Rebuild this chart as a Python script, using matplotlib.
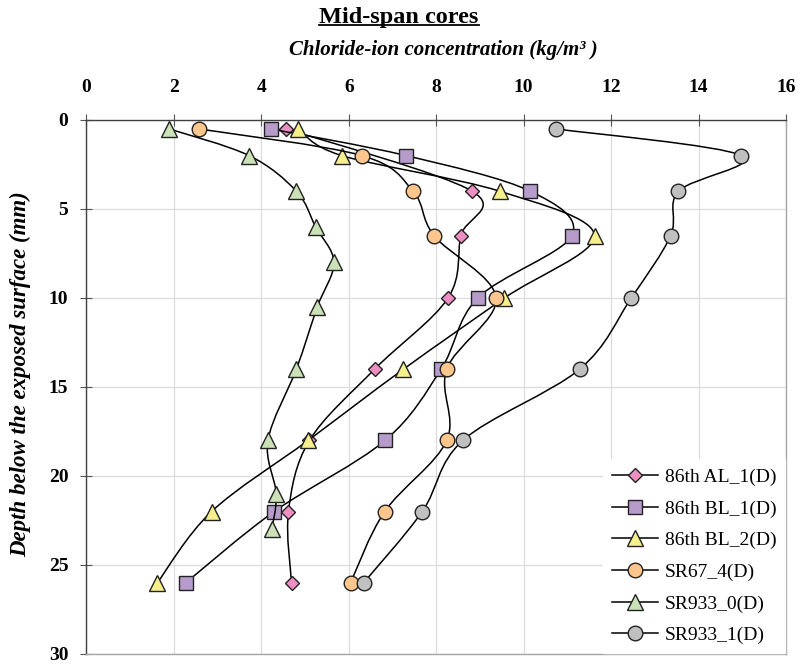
import numpy as np
from matplotlib import pyplot as plt
from matplotlib.path import Path
from matplotlib.patches import PathPatch
from matplotlib.lines import Line2D

plt.rcParams['font.family'] = ['Liberation Serif', 'DejaVu Serif']

# depths (mm) and chloride-ion concentrations (kg/m3)
names = ['86th AL_1(D)', '86th BL_1(D)', '86th BL_2(D)', 'SR67_4(D)', 'SR933_0(D)', 'SR933_1(D)']

al1_depth = [0.5, 4, 6.5, 10, 14, 18, 22, 26]
al1_conc = [4.57, 8.82, 8.56, 8.27, 6.59, 5.10, 4.62, 4.69]

bl1_depth = [0.5, 2, 4, 6.5, 10, 14, 18, 22, 26]
bl1_conc = [4.21, 7.31, 10.15, 11.10, 8.95, 8.11, 6.83, 4.29, 2.27]

bl2_depth = [0.5, 2, 4, 6.5, 10, 14, 18, 22, 26]
bl2_conc = [4.84, 5.84, 9.45, 11.62, 9.56, 7.25, 5.07, 2.86, 1.62]

sr67_depth = [0.5, 2, 4, 6.5, 10, 14, 18, 22, 26]
sr67_conc = [2.57, 6.30, 7.47, 7.95, 9.37, 8.24, 8.24, 6.82, 6.04]

sr9330_depth = [0.5, 2, 4, 6, 8, 10.5, 14, 18, 21, 23]
sr9330_conc = [1.89, 3.72, 4.80, 5.24, 5.66, 5.28, 4.80, 4.15, 4.34, 4.24]

sr9331_depth = [0.5, 2, 4, 6.5, 10, 14, 18, 22, 26]
sr9331_conc = [10.74, 14.98, 13.54, 13.36, 12.46, 11.28, 8.61, 7.68, 6.34]

concs = [al1_conc, bl1_conc, bl2_conc, sr67_conc, sr9330_conc, sr9331_conc]
depths = [al1_depth, bl1_depth, bl2_depth, sr67_depth, sr9330_depth, sr9331_depth]

markers = ['D', 's', '^', 'o', '^', 'o']
msizes = [7, 10.5, 12, 10.5, 12, 10.5]
colors = ['#EE8FC4', '#B79CCB', '#F6F08C', '#FCC68C', '#CBE2B8', '#C0C0C0']


def smooth_path(x, y):
    # Catmull-Rom style bezier through the points (like Excel "smoothed line")
    p = np.column_stack([x, y]).astype(float)
    n = len(p)
    verts = [p[0]]
    codes = [Path.MOVETO]
    for i in range(n - 1):
        p0 = p[i - 1] if i > 0 else p[i]
        p1 = p[i]
        p2 = p[i + 1]
        p3 = p[i + 2] if i + 2 < n else p[i + 1]
        c1 = p1 + (p2 - p0) / 6.0
        c2 = p2 - (p3 - p1) / 6.0
        verts += [c1, c2, p2]
        codes += [Path.CURVE4] * 3
    return Path(verts, codes)


fig = plt.figure(figsize=(7.97, 6.67), dpi=100)
ax = fig.add_axes([0.1085, 0.0195, 0.8777, 0.8006])

for i in range(len(names)):
    patch = PathPatch(smooth_path(concs[i], depths[i]), facecolor='none',
                      edgecolor='black', lw=1.1, zorder=3 + 2 * i)
    ax.add_patch(patch)
    ax.plot(concs[i], depths[i], linestyle='none', marker=markers[i], ms=msizes[i],
            mfc=colors[i], mec='#222222', mew=1.0, zorder=4 + 2 * i)

ax.set_xlim(0, 16)
ax.set_ylim(30, 0)
ax.set_xticks(np.arange(0, 17, 2))
ax.set_yticks(np.arange(0, 31, 5))
ax.xaxis.tick_top()
ax.tick_params(axis='x', direction='inout', length=8, width=0.8, color='#555555',
               pad=13, labelsize=14)
ax.tick_params(axis='y', direction='inout', length=8, width=0.8, color='#555555',
               pad=9, labelsize=14)
for lab in ax.get_xticklabels() + ax.get_yticklabels():
    lab.set_fontweight('bold')

ax.grid(True, color='#DCDCDC', lw=0.9, zorder=0)
ax.set_axisbelow(True)
ax.spines['top'].set_color('#404040')
ax.spines['left'].set_color('#404040')
ax.spines['bottom'].set_color('#A6A6A6')
ax.spines['right'].set_color('#A6A6A6')
for s in ax.spines.values():
    s.set_linewidth(1.0)

handles = []
for i in range(len(names)):
    handles.append(Line2D([], [], color='black', lw=1.1, marker=markers[i],
                          ms=msizes[i], mfc=colors[i], mec='#222222', mew=1.0))
leg = ax.legend(handles, names, loc='lower right', borderaxespad=0.05, fontsize=14,
                handlelength=2.35, handletextpad=0.35, labelspacing=0.72,
                frameon=True, fancybox=False, framealpha=1, edgecolor='white',
                borderpad=0.45)
leg.set_zorder(30)

title = fig.text(399 / 797, 1 - 17 / 667, 'Mid-span cores', ha='center', va='center',
                 fontsize=17.5, fontweight='bold')
fig.text(443 / 797, 1 - 50 / 667, 'Chloride-ion concentration (kg/m³ )', ha='center',
         va='center', fontsize=15, fontweight='bold', fontstyle='italic')
fig.text(21 / 797, 1 - 374 / 667, 'Depth below the exposed surface (mm)', ha='center',
         va='center', rotation=90, fontsize=16.5, fontweight='bold', fontstyle='italic')

# underline the title
fig.canvas.draw()
bb = title.get_window_extent().transformed(fig.transFigure.inverted())
fig.add_artist(Line2D([bb.x0, bb.x1], [bb.y0 + 0.003, bb.y0 + 0.003],
                      transform=fig.transFigure, color='black', lw=1.3))

fig.savefig('out.png', dpi=100)
